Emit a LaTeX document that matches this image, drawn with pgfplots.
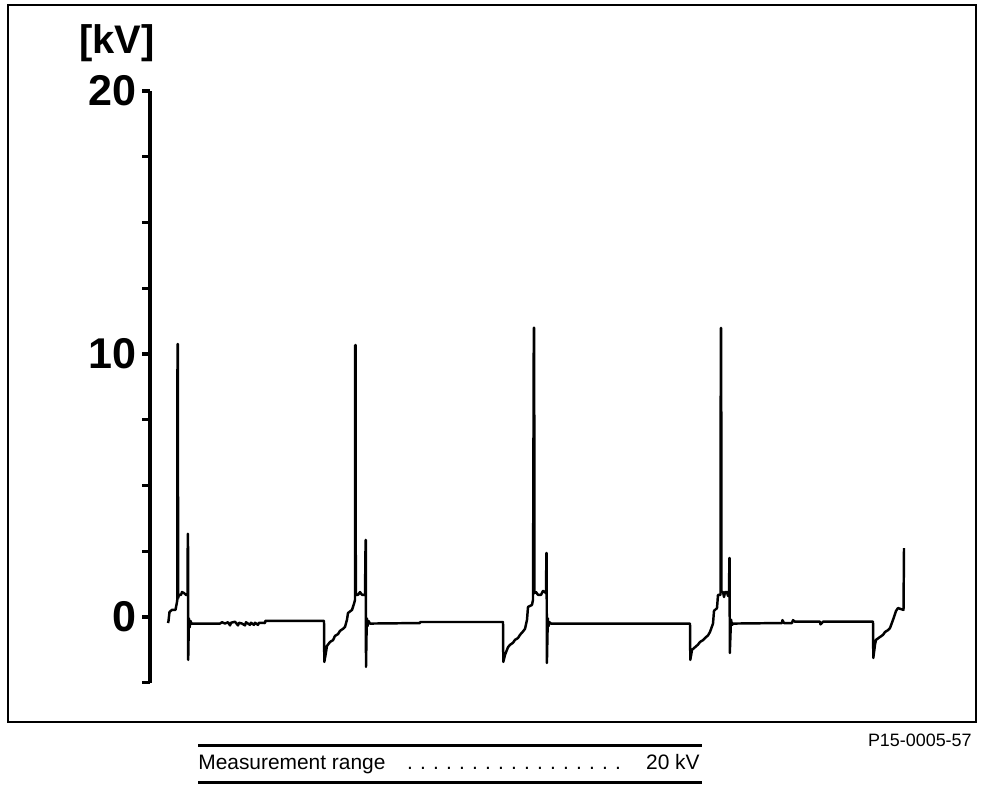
\documentclass[border=0pt]{standalone}
\usepackage{fontspec}
\setmainfont{Liberation Sans}
\usepackage{pgfplots}
\pgfplotsset{compat=1.18}
\begin{document}
\begin{tikzpicture}
\begin{axis}[
  scale only axis,
  width=16.5cm, height=11.835cm,
  xmin=0, xmax=825, ymin=-2.5, ymax=20,
  clip=false,
  axis x line=none, axis y line=left,
  y axis line style={-, line width=1.8pt},
  ytick={0,10,20}, yticklabels={0,10,20},
  minor ytick={-2.5,2.5,5,7.5,12.5,15,17.5},
  tick align=outside, ytick pos=left,
  major tick length=0.15cm, minor tick length=0.15cm,
  tick style={black, line width=1.8pt},
  minor tick style={black, line width=1.8pt},
  yticklabel style={font=\fontsize{24.5}{26}\selectfont\bfseries, inner sep=0pt, xshift=-0.11cm},
]
% secondary voltage trace (time in arbitrary units)
\addplot[black, line width=1.4pt, line join=round, mark=none] coordinates {
  (18,-0.23) (18.5,-0.15) (19.5,0.19) (22,0.27) (25.5,0.27) (26.8,0.53) (27.3,0.65)
  (27.5,10.38) (27.9,10.38) (28.1,0.72) (29,0.84) (31,0.84) (32,0.95) (34,0.91) (36,0.84) (37.5,0.84)
  (37.8,3.16) (38.0,3.16) (38.2,-1.63) (38.9,-0.05) (39.6,-0.40) (40.5,-0.15) (41.5,-0.25)
  (70,-0.25) (72,-0.20) (75,-0.25) (78,-0.20) (80,-0.32) (81,-0.22) (85,-0.18) (88,-0.32) (89,-0.22)
  (92,-0.25) (95,-0.32) (96,-0.20) (100,-0.30) (101,-0.22) (104,-0.30) (105,-0.22) (108,-0.30) (109,-0.22)
  (115,-0.23) (115.3,-0.15) (174,-0.15)
  (174.3,-1.71) (175.5,-1.45) (177,-1.10) (180,-0.95) (183,-0.88) (185,-0.72) (188,-0.65) (190,-0.53)
  (193,-0.45) (195,-0.38) (197,-0.10) (198,0.15) (202,0.27) (204,0.50) (205,0.65)
  (205.2,10.34) (205.6,10.34) (205.8,0.84) (208,0.84) (210,0.95) (212,0.84) (215,0.84)
  (215.6,2.93) (215.8,2.93) (216.0,-1.90) (216.8,-0.05) (217.5,-0.35) (218.5,-0.15) (220,-0.25)
  (270,-0.23) (270.2,-0.19) (353,-0.19)
  (353.3,-1.71) (355,-1.44) (358,-1.15) (360,-1.06) (363,-0.98) (365,-0.87) (368,-0.80) (370,-0.68)
  (373,-0.55) (375,-0.45) (377,-0.11) (378,0.38) (382,0.46) (383,0.65)
  (383.8,11.0) (384.2,11.0) (384.4,0.91) (386,0.95) (388,0.84) (391,0.84) (393,0.99) (396,0.91)
  (396.4,2.43) (396.6,2.43) (396.9,-1.75) (397.8,-0.05) (398.5,-0.35) (399.5,-0.20) (401,-0.25) (540,-0.25)
  (540.3,-1.63) (542,-1.25) (545,-1.15) (548,-1.05) (550,-0.95) (553,-0.88) (555,-0.80) (558,-0.70)
  (560,-0.57) (563,-0.25) (564,0.23) (567,0.34) (568,0.84) (570.5,0.84)
  (570.8,10.99) (571.2,10.99) (571.4,0.95) (573,0.95) (574,0.76) (575,0.95) (577,0.95) (578,0.80) (579,0.95)
  (579.4,2.24) (579.6,2.24) (579.8,-1.37) (581,-0.10) (582,-0.30) (583.5,-0.25)
  (632,-0.23) (632.5,-0.12) (634,-0.23) (642,-0.23) (643,-0.12) (645,-0.18) (670,-0.18) (670.5,-0.28)
  (673,-0.18) (723,-0.18)
  (723.3,-1.56) (725,-1.05) (726,-0.87) (730,-0.76) (733,-0.68) (735,-0.57) (738,-0.50) (740,-0.42)
  (743,-0.11) (746,0.23) (748,0.34) (751,0.30) (753.5,0.27) (754,2.62)
};
% unit label
\node[font=\fontsize{22.7}{24}\selectfont\bfseries] at (axis cs:-33,21.8) {[kV]};
% frame and page extent
\draw[line width=1.4pt] (axis cs:-142,-3.99) rectangle (axis cs:826,23.27);
\path (axis cs:-150,-6.578) rectangle (axis cs:842,23.46);
% caption below the frame
\node[anchor=base east, inner sep=0pt, font=\fontsize{10.2}{12}\selectfont] at (axis cs:822,-4.94) {P15-0005-57};
\draw[line width=1.7pt] (axis cs:48,-4.87) -- (axis cs:552,-4.87);
\draw[line width=1.7pt] (axis cs:48,-6.31) -- (axis cs:552,-6.31);
\node[anchor=base west, inner sep=0pt, font=\fontsize{11.9}{13}\selectfont] at (axis cs:48,-5.80) {Measurement range};
\node[anchor=base east, inner sep=0pt, font=\fontsize{11.9}{13}\selectfont] at (axis cs:550,-5.80) {20 kV};
\pgfplotsinvokeforeach{0,...,16}{
  \node[anchor=base, inner sep=0pt, font=\fontsize{11.9}{13}\selectfont] at (axis cs:{260+13*#1},-5.80) {.};
}
\end{axis}
\end{tikzpicture}
\end{document}
